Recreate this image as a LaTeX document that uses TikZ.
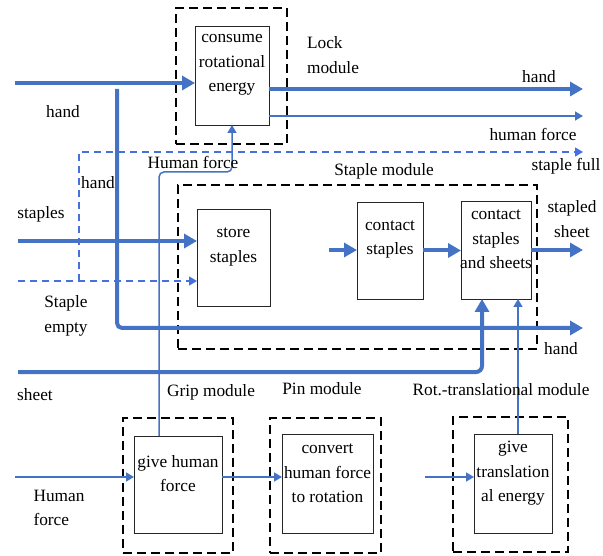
\documentclass[tikz,border=0pt]{standalone}
\usepackage{fontspec}
\setmainfont{Liberation Serif}
\usetikzlibrary{arrows.meta}
\definecolor{flow}{RGB}{68,114,196}
\definecolor{signalblue}{RGB}{72,112,220}
\begin{document}
\begin{tikzpicture}[x=1pt,y=-1pt,
  txt/.style={font=\rmfamily\fontsize{17.3}{24.5}\selectfont, inner sep=0pt, align=center, text=black},
  module/.style={draw=black, line width=1.8pt, dash pattern=on 9pt off 5pt, inner sep=0pt, outer sep=0pt},
  fbox/.style={draw=black!85, line width=0.9pt, fill=white, inner sep=0pt, outer sep=0pt},
  big/.style={draw=flow, line width=4pt, -{Triangle[length=13pt,width=14pt]}},
  fine/.style={draw=flow, line width=1.5pt, -{Triangle[length=8pt,width=9pt]}},
  signal/.style={draw=signalblue, line width=1.3pt, dash pattern=on 7pt off 5pt, -{Triangle[length=8pt,width=9pt]}}
]
\useasboundingbox (0,0) rectangle (603,556);

% module frames
\node[module, minimum width=111pt, minimum height=136pt] (lockm) at (231.5,76) {};
\node[module, minimum width=359pt, minimum height=164pt] (staplem) at (357.5,267) {};
\node[module, minimum width=110pt, minimum height=135pt] (gripm) at (178,485.5) {};
\node[module, minimum width=111pt, minimum height=135pt] (pinm) at (325.5,485.5) {};
\node[module, minimum width=115pt, minimum height=135pt] (rotm) at (510.5,484.5) {};

% function blocks
\node[fbox, minimum width=74pt, minimum height=99pt] (consume) at (232,75.5) {};
\node[fbox, minimum width=73pt, minimum height=97pt] (store) at (233.5,257.5) {};
\node[fbox, minimum width=66pt, minimum height=97pt] (contact) at (390,250.5) {};
\node[fbox, minimum width=70pt, minimum height=98pt] (cs) at (496,250) {};
\node[fbox, minimum width=88pt, minimum height=97pt] (gh) at (178,484.5) {};
\node[fbox, minimum width=91pt, minimum height=99pt] (conv) at (327.5,483.5) {};
\node[fbox, minimum width=78pt, minimum height=99pt] (tr) at (513,483.5) {};

% block texts
\node[txt] (tconsume) at (232,65) {consume\\rotational\\energy};
\node[txt] (tstore) at (233.5,247) {store\\staples};
\node[txt] (tcontact) at (390,239.5) {contact\\staples};
\node[txt] (tcs) at (496,239.5) {contact\\staples\\and sheets};
\node[txt] (tgh) at (178,473.5) {give human\\force};
\node[txt] (tconv) at (327.5,473.5) {convert\\human force\\to rotation};
\node[txt] (ttr) at (513,473.5) {give\\translation\\al energy};

% free ends of the flows
\coordinate (handL) at (15,83);
\coordinate (handR) at (583,89);
\coordinate (hforceR) at (583,116);
\coordinate (handTop) at (117,89);
\coordinate (handR2) at (583,328);
\coordinate (sfullR) at (583,152);
\coordinate (semptyL) at (18,281);
\coordinate (sbranch) at (79,281);
\coordinate (staplesL) at (18,241);
\coordinate (cin) at (329,250);
\coordinate (stapledR) at (583,250);
\coordinate (hfA) at (159,172);
\coordinate (hfB) at (232,172);
\coordinate (sheetL) at (18,372);
\coordinate (sheetX) at (482,372);
\coordinate (trX) at (518,434);
\coordinate (hfin) at (15,477);
\coordinate (trin) at (425,477);

% flows
\draw[big] (handL) -- (consume.west |- handL);
\draw[big] (consume.east |- handR) -- (handR);
\draw[fine] (consume.east |- hforceR) -- (hforceR);
\draw[big, rounded corners=5pt] (handTop) |- (handR2);
\draw[signal] (semptyL) -- (store.west |- semptyL);
\draw[signal] (sbranch) |- (sfullR);
\draw[big] (staplesL) -- (store.west |- staplesL);
\draw[big] (cin) -- (contact.west |- cin);
\draw[big] (contact.east) -- (contact.east -| cs.west);
\draw[big] (cs.east |- stapledR) -- (stapledR);
\draw[fine, rounded corners=5pt] (hfA |- gh.north) -- (hfA) -- (hfB) -- (consume.south);
\draw[big, rounded corners=6pt] (sheetL) -- (sheetX) -- (sheetX |- cs.south);
\draw[fine] (trX) -- (trX |- cs.south);
\draw[fine] (hfin) -- (gh.west |- hfin);
\draw[fine] (gh.east |- hfin) -- (conv.west |- hfin);
\draw[fine] (trin) -- (tr.west |- trin);

% flow and module labels
\node[txt] (l1) at (63,112) {hand};
\node[txt] (l2) at (98,183) {hand};
\node[txt] (l3) at (41,214) {staples};
\node[txt] (l4) at (66,316) {Staple\\empty};
\node[txt] (l5) at (35,395) {sheet};
\node[txt, align=left] (l6) at (59,508) {Human\\force};
\node[txt] (l7) at (211,392) {Grip module};
\node[txt] (l8) at (322,389) {Pin module};
\node[txt] (l9) at (501,390) {Rot.-translational module};
\node[txt] (l10) at (193,162) {Human force};
\node[txt, align=left] (l11) at (333,55) {Lock\\module};
\node[txt] (l12) at (539,77) {hand};
\node[txt] (l13) at (533,134) {human force};
\node[txt] (l14) at (566,166) {staple full};
\node[txt] (l15) at (384,171) {Staple module};
\node[txt] (l16) at (572,219) {stapled\\sheet};
\node[txt] (l17) at (561,349) {hand};
\end{tikzpicture}
\end{document}
